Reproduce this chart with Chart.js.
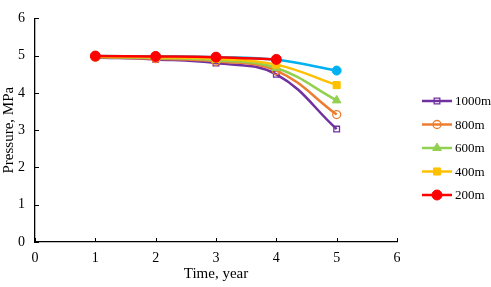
<!DOCTYPE html>
<html>
<head>
<meta charset="utf-8">
<script src="https://cdn.jsdelivr.net/npm/chart.js@4.4.0/dist/chart.umd.min.js"></script>
<style>
  html, body { margin: 0; padding: 0; background: #fff; }
  #box { width: 491px; height: 287px; }
</style>
</head>
<body>
<div id="box"><canvas id="pressureChart" width="491" height="287"></canvas></div>
<script>
// time, year
const years = [1, 2, 3, 4, 5];
const xTicks = [0, 1, 2, 3, 4, 5, 6];
const yTicks = [0, 1, 2, 3, 4, 5, 6];

// pressure, MPa
const p1000 = [4.95, 4.90, 4.80, 4.50, 3.03];
const p800 = [4.96, 4.92, 4.85, 4.60, 3.42];
const p600 = [4.97, 4.94, 4.88, 4.67, 3.80];
const p400 = [4.98, 4.96, 4.92, 4.76, 4.21];
const p200 = [4.99, 4.98, 4.96, 4.90, null];
const pBlue = [4.99, 4.98, 4.96, 4.89, 4.60]; // extra series, not in legend

const legendOrder = ["1000m", "800m", "600m", "400m", "200m"];

const serif = "'Liberation Serif', 'Times New Roman', serif";

function pts(vals) {
  return years.map((x, i) => ({ x: x, y: vals[i] }));
}

function series(label, vals, color, style, filled, radius) {
  return {
    label: label,
    data: pts(vals),
    borderColor: color,
    backgroundColor: filled ? color : "#fff",
    pointBorderColor: color,
    pointBackgroundColor: filled ? color : "rgba(255,255,255,0)",
    pointStyle: style,
    pointRadius: radius,
    pointBorderWidth: filled ? 1 : 1.3,
    borderWidth: 2.5,
    tension: 0.4,
    spanGaps: false
  };
}

// ticks drawn pointing into the plot, like the original
const innerTicks = {
  id: "innerTicks",
  afterDraw(chart) {
    const ctx = chart.ctx;
    const xs = chart.scales.x, ys = chart.scales.y;
    const a = chart.chartArea;
    ctx.save();
    ctx.strokeStyle = "#000";
    ctx.lineWidth = 1;
    xTicks.forEach(v => {
      const px = Math.round(xs.getPixelForValue(v)) + 0.5;
      ctx.beginPath(); ctx.moveTo(px, a.bottom); ctx.lineTo(px, a.bottom - 4); ctx.stroke();
    });
    yTicks.forEach(v => {
      const py = Math.round(ys.getPixelForValue(v)) + 0.5;
      ctx.beginPath(); ctx.moveTo(a.left, py); ctx.lineTo(a.left + 4, py); ctx.stroke();
    });
    ctx.restore();
  }
};

// legend with a line through the marker, excel style
const lineLegend = {
  id: "lineLegend",
  afterDraw(chart) {
    const ctx = chart.ctx;
    let y = 101;
    ctx.save();
    legendOrder.forEach(name => {
      const d = chart.data.datasets.find(s => s.label === name);
      ctx.strokeStyle = d.borderColor;
      ctx.lineWidth = 2.5;
      ctx.beginPath(); ctx.moveTo(422, y); ctx.lineTo(452, y); ctx.stroke();
      ctx.fillStyle = d.pointBackgroundColor;
      ctx.strokeStyle = d.pointBorderColor;
      ctx.lineWidth = d.pointBorderWidth;
      Chart.helpers.drawPoint(ctx, {
        pointStyle: d.pointStyle,
        radius: d.pointRadius,
        borderWidth: d.pointBorderWidth
      }, 437, y);
      ctx.fillStyle = "#000";
      ctx.font = "13px " + serif;
      ctx.textBaseline = "middle";
      ctx.textAlign = "left";
      ctx.fillText(d.label, 455, y + 1);
      y += 23.5;
    });
    ctx.restore();
  }
};

const ctx = document.getElementById("pressureChart").getContext("2d");
new Chart(ctx, {
  type: "line",
  data: {
    // first dataset ends up on top
    datasets: [
      series("200m", p200, "#FF0000", "circle", true, 5),
      series("400m", p400, "#FFC000", "rect", true, 5),
      series("600m", p600, "#92D050", "triangle", true, 5),
      series("800m", p800, "#ED7D31", "circle", false, 4),
      series("1000m", p1000, "#7030A0", "rect", false, 4),
      series("0m", pBlue, "#00B0F0", "circle", true, 4.5)
    ]
  },
  options: {
    responsive: false,
    animation: false,
    layout: { padding: { top: 5, right: 94, left: 0, bottom: 0 } },
    plugins: {
      legend: { display: false },
      tooltip: { enabled: false }
    },
    scales: {
      x: {
        type: "linear",
        min: 0,
        max: 6,
        afterBuildTicks: s => { s.ticks = xTicks.map(v => ({ value: v })); },
        afterFit: s => { s.height = 45; },
        grid: { display: false, drawTicks: false },
        border: { color: "#000", width: 1.3 },
        ticks: { color: "#000", font: { family: serif, size: 14 }, padding: 8, maxRotation: 0 },
        title: { display: true, text: "Time, year", color: "#000", font: { family: serif, size: 15 }, padding: { top: 6 } }
      },
      y: {
        min: 0,
        max: 6,
        afterBuildTicks: s => { s.ticks = yTicks.map(v => ({ value: v })); },
        afterFit: s => { s.width = 35; },
        grid: { display: false, drawTicks: false },
        border: { color: "#000", width: 1.3 },
        ticks: { color: "#000", font: { family: serif, size: 14 }, padding: 10 },
        title: { display: true, text: "Pressure, MPa", color: "#000", font: { family: serif, size: 15 }, padding: 0 }
      }
    }
  },
  plugins: [innerTicks, lineLegend]
});
</script>
</body>
</html>
